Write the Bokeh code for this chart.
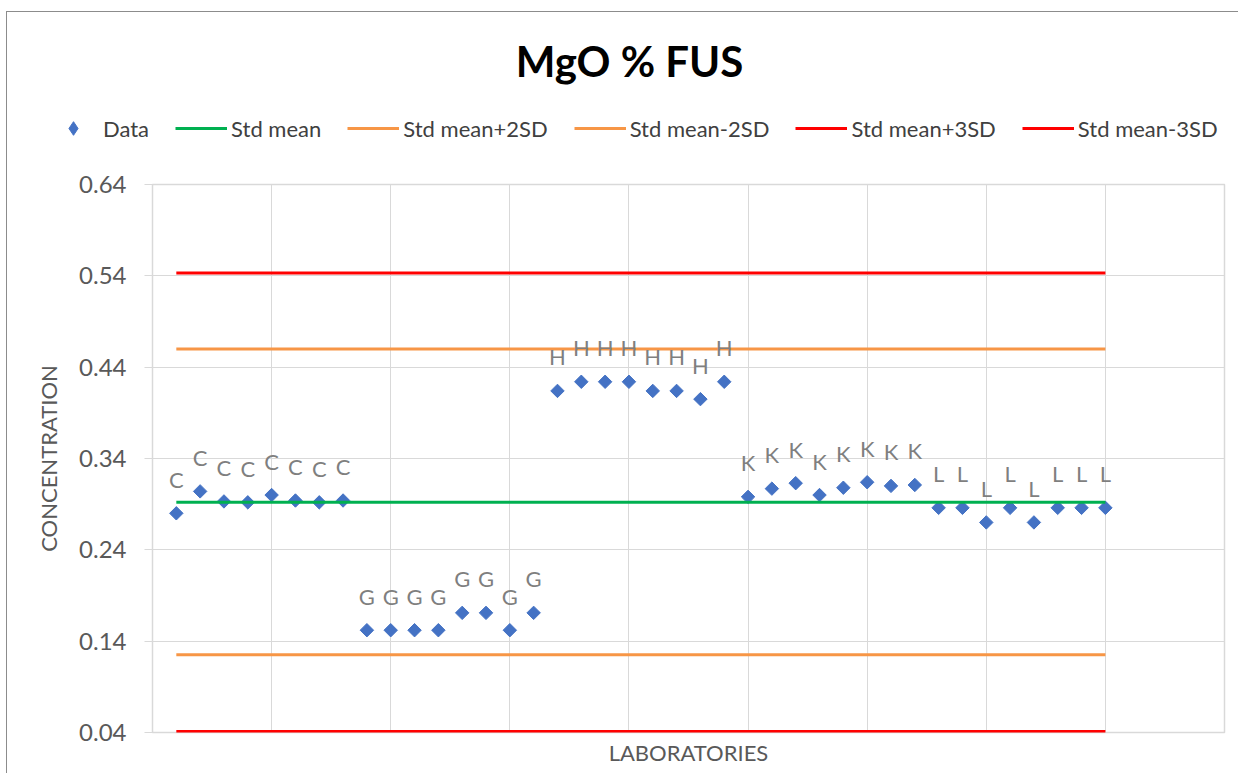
import math
from bokeh.plotting import figure
from bokeh.layouts import column
from bokeh.models import (Range1d, FixedTicker, PrintfTickFormatter, Legend,
                          LegendItem, Label, ColumnDataSource)
from bokeh.core.properties import value
from bokeh.embed import file_html
from bokeh.resources import INLINE

# ---------------- data ----------------
TITLE = "MgO % FUS"
X_LABEL = "LABORATORIES"
Y_LABEL = "CONCENTRATION"
LAB_CODES = ["C"] * 8 + ["G"] * 8 + ["H"] * 8 + ["K"] * 8 + ["L"] * 8
C_VALUES = [0.280, 0.304, 0.293, 0.292, 0.300, 0.294, 0.292, 0.294]
G_VALUES = [0.152, 0.152, 0.152, 0.152, 0.171, 0.171, 0.152, 0.171]
H_VALUES = [0.414, 0.424, 0.424, 0.424, 0.414, 0.414, 0.405, 0.424]
K_VALUES = [0.298, 0.307, 0.313, 0.300, 0.308, 0.314, 0.310, 0.311]
L_VALUES = [0.286, 0.286, 0.270, 0.286, 0.270, 0.286, 0.286, 0.286]
STD_MEAN = 0.292
STD_PLUS_2SD = 0.460
STD_MINUS_2SD = 0.125
STD_PLUS_3SD = 0.543
STD_MINUS_3SD = 0.041
Y_TICKS = [0.04, 0.14, 0.24, 0.34, 0.44, 0.54, 0.64]
X_GRID = [0, 5, 10, 15, 20, 25, 30, 35, 40, 45]
SERIES_NAMES = ["Data", "Std mean", "Std mean+2SD", "Std mean-2SD",
                "Std mean+3SD", "Std mean-3SD"]

values = C_VALUES + G_VALUES + H_VALUES + K_VALUES + L_VALUES
sample_no = list(range(1, len(values) + 1))
line_x = [sample_no[0], sample_no[-1]]
ref_levels = [STD_MEAN, STD_PLUS_2SD, STD_MINUS_2SD, STD_PLUS_3SD, STD_MINUS_3SD]

FONT = "Lato"
BLUE = "#4472C4"
GREEN = "#00B050"
ORANGE = "#F79646"
RED = "#FF0000"
REF_COLORS = [GREEN, ORANGE, ORANGE, RED, RED]
W = 1238
TOP_H = 170
OFF = 100  # header y-range shift, keeps the series out of the header's view


def add_series(fig, marker, size, angle):
    rends = []
    src = ColumnDataSource(dict(x=sample_no, y=values, lab=LAB_CODES))
    rends.append(fig.scatter("x", "y", source=src, marker=marker, size=size,
                             angle=angle, fill_color=BLUE, line_color=BLUE))
    for lvl, col in zip(ref_levels, REF_COLORS):
        rends.append(fig.line(line_x, [lvl] * 2, line_color=col, line_width=3))
    return rends, src


# ---------------- header (title + legend) ----------------
top = figure(width=W, height=TOP_H, output_backend="svg", toolbar_location=None,
             x_range=Range1d(0, W), y_range=Range1d(-TOP_H - OFF, -OFF),
             x_axis_type=None, y_axis_type=None, min_border=0)
top.frame_align = False
top.outline_line_color = None
top.xgrid.visible = False
top.ygrid.visible = False
top.background_fill_color = None
top.border_fill_color = None

hdr_rends, _ = add_series(top, "diamond", 10, 0)
legend = Legend(items=[LegendItem(label=n, renderers=[r])
                       for n, r in zip(SERIES_NAMES, hdr_rends)],
                orientation="horizontal", location=(47, 25), glyph_width=52,
                glyph_height=34, label_height=20, label_standoff=4, spacing=26,
                padding=0, margin=0, border_line_color=None,
                background_fill_alpha=0, label_text_font=FONT,
                label_text_font_size="22px", label_text_color="#404040")
top.add_layout(legend, "center")

top.add_layout(Label(x=629, y=-OFF - 60, text=TITLE, text_font=FONT,
                     text_font_size="42px", text_font_style="bold",
                     text_color="#000000", text_align="center",
                     text_baseline="alphabetic"))

# ---------------- main chart ----------------
p = figure(width=W, height=603, output_backend="svg", toolbar_location=None,
           x_range=Range1d(0, 45), y_range=Range1d(0.04, 0.64),
           min_border_left=152, min_border_right=14, min_border_top=14,
           min_border_bottom=41)
p.frame_align = False
p.background_fill_color = "white"
p.border_fill_color = None
p.outline_line_color = "#D9D9D9"
p.outline_line_width = 1.5

p.xgrid.ticker = FixedTicker(ticks=X_GRID)
p.ygrid.ticker = FixedTicker(ticks=Y_TICKS)
p.xgrid.grid_line_color = "#D9D9D9"
p.ygrid.grid_line_color = "#D9D9D9"

p.xaxis.ticker = FixedTicker(ticks=[])
p.xaxis.axis_line_color = None
p.xaxis.major_tick_line_color = None
p.xaxis.minor_tick_line_color = None
p.xaxis.axis_label = X_LABEL
p.xaxis.axis_label_text_font = FONT
p.xaxis.axis_label_text_font_style = "normal"
p.xaxis.axis_label_text_font_size = "22px"
p.xaxis.axis_label_text_color = "#595959"
p.xaxis.axis_label_standoff = 6

p.yaxis.ticker = FixedTicker(ticks=Y_TICKS)
p.yaxis.formatter = PrintfTickFormatter(format="%.2f")
p.yaxis.axis_line_color = "#D9D9D9"
p.yaxis.major_tick_line_color = "#D9D9D9"
p.yaxis.major_tick_in = 0
p.yaxis.major_tick_out = 8
p.yaxis.minor_tick_line_color = None
p.yaxis.major_label_standoff = 18
p.yaxis.major_label_text_font = FONT
p.yaxis.major_label_text_font_size = "24px"
p.yaxis.major_label_text_color = "#595959"
p.yaxis.axis_label = Y_LABEL
p.yaxis.axis_label_text_font = FONT
p.yaxis.axis_label_text_font_style = "normal"
p.yaxis.axis_label_text_font_size = "22px"
p.yaxis.axis_label_text_color = "#595959"
p.yaxis.axis_label_standoff = 14

_, src = add_series(p, "square", 9.5, math.pi / 4)
p.text("x", "y", text="lab", source=src, text_align="center",
       text_baseline="alphabetic", y_offset=-34, text_font=value(FONT),
       text_font_size="22px", text_color="#7F7F7F")

layout = column(top, p, spacing=0)
BORDER = "#8C8C8C"
layout.styles = {
    "background-color": "white",
    "background-image": (f"linear-gradient({BORDER}, {BORDER}), "
                         f"linear-gradient({BORDER}, {BORDER})"),
    "background-position": "6px 11px, 6px 11px",
    "background-size": "1px 900px, 1400px 1px",
    "background-repeat": "no-repeat, no-repeat",
}
open("out.html", "w").write(file_html(layout, INLINE))
